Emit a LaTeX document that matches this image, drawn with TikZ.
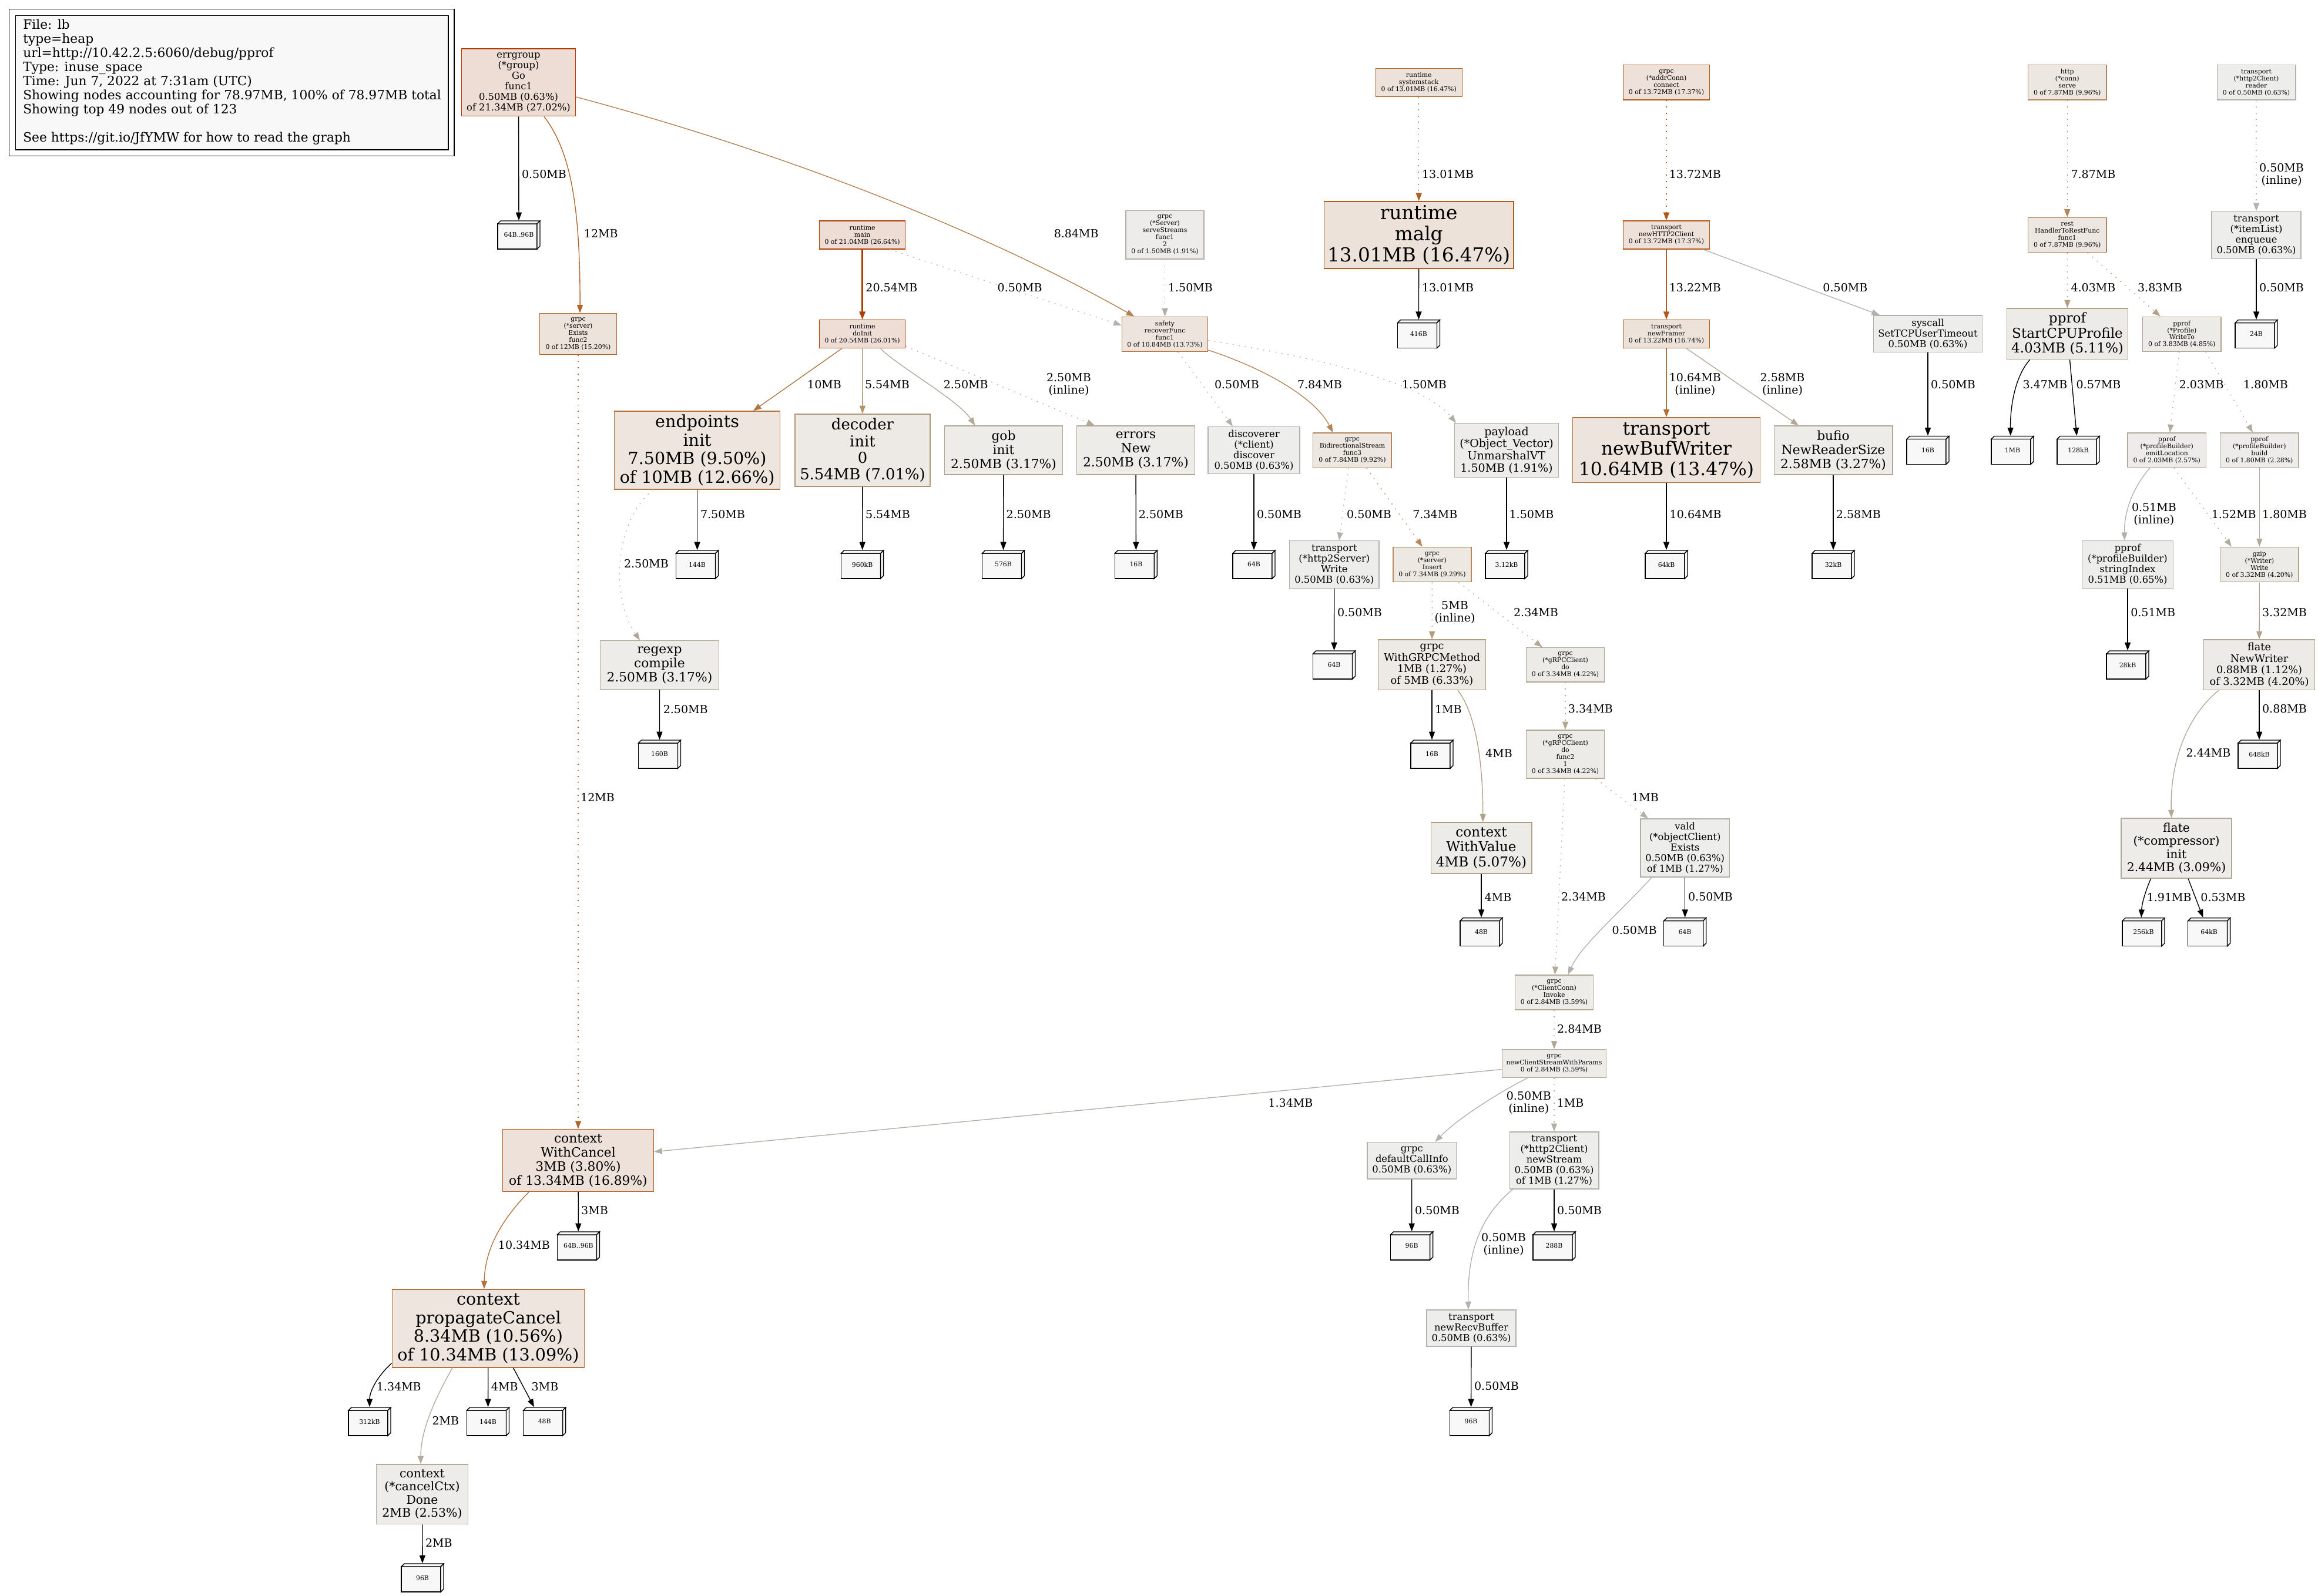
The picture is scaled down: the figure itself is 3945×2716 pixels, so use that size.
\documentclass[tikz,border=0pt]{standalone}
\usepackage{fontspec}
\setmainfont{DejaVu Serif}
\usetikzlibrary{arrows.meta,calc}
\definecolor{leafbg}{HTML}{F8F8F8}
\newcommand\gvf[1]{\fontsize{\the\dimexpr #1pt*387/1000\relax}{\the\dimexpr #1pt*426/1000\relax}\selectfont}
\newcommand\pcol[2]{%
  \pgfmathsetmacro\pcS{#2}%
  \pgfmathsetmacro\pcT{min(1,\pcS/0.2)}%
  \pgfmathsetmacro\pcU{\pcS^0.3}%
  \pgfmathsetmacro\pcBg{0.93*(1-0.1*\pcT*\pcU)}%
  \pgfmathsetmacro\pcBb{0.93*(1-0.1*\pcT)}%
  \pgfmathsetmacro\pcFg{0.7*(1-\pcT*\pcU)}%
  \pgfmathsetmacro\pcFb{0.7*(1-\pcT)}%
  \definecolor{#1bg}{rgb}{0.93,\pcBg,\pcBb}%
  \definecolor{#1fg}{rgb}{0.7,\pcFg,\pcFb}%
}
\newcommand\pn[8]{\node[pnode, nscore=#7, minimum width=#4*0.1mm, minimum height=#5*0.1mm, font=\gvf{#6}] (#1) at (#2,#3) {#8};}
\newcommand\leaf[4]{%
  \filldraw[leafface] (#2-36,#3-19) rectangle (#2+31,#3+24);
  \filldraw[leafface] (#2-36,#3-19) -- (#2-31,#3-24) -- (#2+36,#3-24) -- (#2+31,#3-19) -- cycle;
  \filldraw[leafface] (#2+31,#3-19) -- (#2+36,#3-24) -- (#2+36,#3+19) -- (#2+31,#3+24) -- cycle;
  \node[leafnode] (#1) at (#2,#3) {#4};}
\newcommand\el[4]{\node[elab] (#1) at (#2,#3) {#4};}
\begin{document}
\begin{tikzpicture}[x=0.1mm,y=-0.1mm,
  pnode/.style={rectangle, draw, align=center, inner xsep=1pt, inner ysep=0pt, line width=0.387pt},
  nscore/.code={\pcol{nc}{#1}\pgfkeysalso{fill=ncbg,draw=ncfg}},
  escore/.code={\pcol{ec}{#1}\pgfkeysalso{draw=ecfg}},
  conn/.style={line width=0.387pt, -{Triangle[length=1.36mm,width=1.0mm]}},
  ledge/.style={conn, draw=black},
  dotd/.style={dash pattern=on 0.5pt off 2.5pt},
  elab/.style={font=\gvf{14}, inner sep=0pt, align=center},
  leafface/.style={fill=leafbg, draw=black, line width=0.387pt},
  leafnode/.style={rectangle, minimum width=7.2mm, minimum height=4.8mm, inner sep=0pt, font=\gvf{8}},
  lgl/.style={anchor=base west, inner sep=0pt, font=\gvf{16}}]
\useasboundingbox (0,0) rectangle (3945,2716);

% legend
\draw[line width=0.387pt] (15.4,15.6) rectangle (773,265.6);
\filldraw[fill=leafbg, draw=black, line width=0.387pt] (26.7,26.8) rectangle (763,255);
\node[lgl] (lg1) at (38.6,49) {File: lb};
\node[lgl] (lg2) at (38.6,73) {type=heap};
\node[lgl] (lg3) at (38.6,97) {url=http://10.42.2.5:6060/debug/pprof};
\node[lgl] (lg4) at (38.6,121) {Type: inuse\_space};
\node[lgl] (lg5) at (38.6,145) {Time: Jun 7, 2022 at 7:31am (UTC)};
\node[lgl] (lg6) at (38.6,169) {Showing nodes accounting for 78.97MB, 100\% of 78.97MB total};
\node[lgl] (lg7) at (38.6,193) {Showing top 49 nodes out of 123};
\node[lgl] (lg8) at (38.6,241) {See https://git.io/JfYMW for how to read the graph};

% nodes
\pn{N1}{882.5}{140.4}{193.6}{114.8}{12}{0.2702}{errgroup\\(*group)\\Go\\func1\\0.50MB (0.63\%)\\of 21.34MB (27.02\%)}
\pn{N2}{984}{568.5}{130.5}{70}{8}{0.1520}{grpc\\(*server)\\Exists\\func2\\0 of 12MB (15.20\%)}
\pn{N3}{1467.6}{400}{146}{48}{8}{0.2664}{runtime\\main\\0 of 21.04MB (26.64\%)}
\pn{N4}{1467.6}{568.7}{146}{48}{8}{0.2601}{runtime\\doInit\\0 of 20.54MB (26.01\%)}
\pn{N5}{1982.5}{399.7}{133}{82.5}{8}{0.0191}{grpc\\(*Server)\\serveStreams\\func1\\2\\0 of 1.50MB (1.91\%)}
\pn{N6}{1982.5}{568.8}{146}{59}{8}{0.1373}{safety\\recoverFunc\\func1\\0 of 10.84MB (13.73\%)}
\pn{N7}{2414.7}{140.6}{147}{48}{8}{0.1647}{runtime\\systemstack\\0 of 13.01MB (16.47\%)}
\pn{N8}{2414.7}{400}{322.6}{114.2}{24}{0.1647}{runtime\\malg\\13.01MB (16.47\%)}
\pn{N9}{2836}{140.4}{147}{59.3}{8}{0.1737}{grpc\\(*addrConn)\\connect\\0 of 13.72MB (17.37\%)}
\pn{N10}{2836}{400}{147}{48}{8}{0.1737}{transport\\newHTTP2Client\\0 of 13.72MB (17.37\%)}
\pn{N11}{2836}{568.7}{147}{48}{8}{0.1674}{transport\\newFramer\\0 of 13.22MB (16.74\%)}
\pn{N12}{3518.2}{140.4}{133.6}{59.3}{8}{0.0996}{http\\(*conn)\\serve\\0 of 7.87MB (9.96\%)}
\pn{N13}{3518.2}{400}{133.6}{59}{8}{0.0996}{rest\\HandlerToRestFunc\\func1\\0 of 7.87MB (9.96\%)}
\pn{N14}{3840}{140.4}{133.6}{59.3}{8}{0.0063}{transport\\(*http2Client)\\reader\\0 of 0.50MB (0.63\%)}
\pn{N15}{3840}{400}{152}{80.4}{12}{0.0063}{transport\\(*itemList)\\enqueue\\0.50MB (0.63\%)}
\pn{N16}{3281}{568.3}{185.4}{62.6}{12}{0.0063}{syscall\\SetTCPUserTimeout\\0.50MB (0.63\%)}
\pn{N17}{3518.5}{568.3}{206.4}{86.6}{17}{0.0511}{pprof\\StartCPUProfile\\4.03MB (5.11\%)}
\pn{N18}{3713.3}{568.7}{133.6}{59}{8}{0.0485}{pprof\\(*Profile)\\WriteTo\\0 of 3.83MB (4.85\%)}
\pn{N19}{1186.6}{766.5}{282}{133}{21}{0.1266}{endpoints\\init\\7.50MB (9.50\%)\\of 10MB (12.66\%)}
\pn{N20}{1468}{766.5}{230}{123}{19}{0.0701}{decoder\\init\\0\\5.54MB (7.01\%)}
\pn{N21}{1708}{766.5}{201.3}{83}{16}{0.0317}{gob\\init\\2.50MB (3.17\%)}
\pn{N22}{1933}{766.5}{200.6}{83}{16}{0.0317}{errors\\New\\2.50MB (3.17\%)}
\pn{N23}{2134}{766.5}{156}{80}{12}{0.0063}{discoverer\\(*client)\\discover\\0.50MB (0.63\%)}
\pn{N24}{2301.4}{766.6}{133.3}{59.3}{8}{0.0992}{grpc\\BidirectionalStream\\func3\\0 of 7.84MB (9.92\%)}
\pn{N25}{2564}{766.7}{177.5}{92}{14}{0.0191}{payload\\(*Object\_Vector)\\UnmarshalVT\\1.50MB (1.91\%)}
\pn{N26}{2836}{766.4}{318.5}{110.8}{23}{0.1347}{transport\\newBufWriter\\10.64MB (13.47\%)}
\pn{N27}{3120}{766.5}{201.7}{83}{16}{0.0327}{bufio\\NewReaderSize\\2.58MB (3.27\%)}
\pn{N28}{2270.8}{961}{152.3}{80.6}{12}{0.0063}{transport\\(*http2Server)\\Write\\0.50MB (0.63\%)}
\pn{N29}{2437.4}{961}{133.2}{59.2}{8}{0.0929}{grpc\\(*server)\\Insert\\0 of 7.34MB (9.29\%)}
\pn{N30}{1122.4}{1132}{201.6}{82.6}{16}{0.0317}{regexp\\compile\\2.50MB (3.17\%)}
\pn{N31}{2437}{1131.7}{182.5}{85.4}{13}{0.0633}{grpc\\WithGRPCMethod\\1MB (1.27\%)\\of 5MB (6.33\%)}
\pn{N32}{2664}{1131.7}{133.3}{58.6}{8}{0.0422}{grpc\\(*gRPCClient)\\do\\0 of 3.34MB (4.22\%)}
\pn{N33}{2664}{1284}{133.3}{82.2}{8}{0.0422}{grpc\\(*gRPCClient)\\do\\func2\\1\\0 of 3.34MB (4.22\%)}
\pn{N34}{2521}{1443.6}{171.6}{87}{17}{0.0507}{context\\WithValue\\4MB (5.07\%)}
\pn{N35}{2867.7}{1443.5}{151.8}{99}{12}{0.0127}{vald\\(*objectClient)\\Exists\\0.50MB (0.63\%)\\of 1MB (1.27\%)}
\pn{N36}{3687.7}{766.4}{133.3}{58.8}{8}{0.0257}{pprof\\(*profileBuilder)\\emitLocation\\0 of 2.03MB (2.57\%)}
\pn{N37}{3845.3}{766.4}{133.5}{58.8}{8}{0.0228}{pprof\\(*profileBuilder)\\build\\0 of 1.80MB (2.28\%)}
\pn{N38}{3621}{961}{154.7}{80.6}{12}{0.0065}{pprof\\(*profileBuilder)\\stringIndex\\0.51MB (0.65\%)}
\pn{N39}{3845.3}{961}{133.5}{59.2}{8}{0.0420}{gzip\\(*Writer)\\Write\\0 of 3.32MB (4.20\%)}
\pn{N40}{3845}{1131.7}{189}{85.4}{13}{0.0420}{flate\\NewWriter\\0.88MB (1.12\%)\\of 3.32MB (4.20\%)}
\pn{N41}{3704}{1444}{188}{102}{15}{0.0309}{flate\\(*compressor)\\init\\2.44MB (3.09\%)}
\pn{N42}{2645}{1689.3}{132.7}{59}{8}{0.0359}{grpc\\(*ClientConn)\\Invoke\\0 of 2.84MB (3.59\%)}
\pn{N43}{2645}{1810.5}{177.3}{47.8}{8}{0.0359}{grpc\\newClientStreamWithParams\\0 of 2.84MB (3.59\%)}
\pn{N44}{984}{1975.5}{257}{106}{16}{0.1689}{context\\WithCancel\\3MB (3.80\%)\\of 13.34MB (16.89\%)}
\pn{N45}{2402.8}{1975.8}{151.8}{62.4}{12}{0.0063}{grpc\\defaultCallInfo\\0.50MB (0.63\%)}
\pn{N46}{2645}{1975.4}{151.7}{97.2}{12}{0.0127}{transport\\(*http2Client)\\newStream\\0.50MB (0.63\%)\\of 1MB (1.27\%)}
\pn{N47}{831}{2261.5}{327.5}{133}{21}{0.1309}{context\\propagateCancel\\8.34MB (10.56\%)\\of 10.34MB (13.09\%)}
\pn{N48}{718.5}{2543.8}{156}{101.7}{15}{0.0253}{context\\(*cancelCtx)\\Done\\2MB (2.53\%)}
\pn{N49}{2504}{2261}{152.2}{62}{12}{0.0063}{transport\\newRecvBuffer\\0.50MB (0.63\%)}

% leaves
\leaf{L1}{883}{400}{64B..96B}
\leaf{L2}{2414.4}{568.7}{416B}
\leaf{L3}{3840}{568.7}{24B}
\leaf{L4}{1186.6}{961}{144B}
\leaf{L5}{1467.6}{961}{960kB}
\leaf{L6}{1707.5}{961}{576B}
\leaf{L7}{1933.4}{961}{16B}
\leaf{L8}{2134}{961}{64B}
\leaf{L9}{2564}{961}{3.12kB}
\leaf{L10}{2836}{961}{64kB}
\leaf{L11}{3120}{961}{32kB}
\leaf{L12}{3281}{766.5}{16B}
\leaf{L13}{3425}{766.5}{1MB}
\leaf{L14}{3537}{766.5}{128kB}
\leaf{L15}{2270.5}{1132}{64B}
\leaf{L16}{1122.5}{1284}{160B}
\leaf{L17}{2437}{1284}{16B}
\leaf{L18}{3621}{1132}{28kB}
\leaf{L19}{3845}{1284}{648kB}
\leaf{L20}{2521}{1586.6}{48B}
\leaf{L21}{2867.7}{1586.6}{64B}
\leaf{L22}{3648}{1586.7}{256kB}
\leaf{L23}{3759.6}{1586.7}{64kB}
\leaf{L24}{2402.6}{2121}{96B}
\leaf{L25}{2645}{2121}{288B}
\leaf{L26}{984.4}{2121}{64B..96B}
\leaf{L27}{629}{2420}{312kB}
\leaf{L28}{830.5}{2420}{144B}
\leaf{L29}{926.7}{2420}{48B}
\leaf{L30}{719}{2686}{96B}
\leaf{L31}{2503.5}{2420}{96B}

% edges
\draw[ledge] (N1) -- (L1);
\draw[conn,escore=0.1520] ($(N1.south)+(43.5,0)$) .. controls (965,250) and (988,330) .. ($(N2.north)+(3,0)$);
\draw[conn,escore=0.1119] ($(N1.east)+(0,24.6)$) .. controls (1300,250) and (1650,380) .. ($(N6.north west)+(21.5,0)$);
\draw[conn,escore=0.1520,dotd] (N2) -- (N44);
\draw[conn,escore=0.2601,line width=0.774pt] (N3) -- (N4);
\draw[conn,escore=0.0063,dotd] ($(N3.south)+(46.4,0)$) -- ($(N6.west)+(0,-15)$);
\draw[conn,escore=0.0190,dotd] (N5) -- (N6);
\draw[conn,escore=0.1266] (N4) -- (N19);
\draw[conn,escore=0.0702] (N4) -- (N20);
\draw[conn,escore=0.0317] ($(N4.south)+(31,0)$) .. controls (1530,625) and (1630,680) .. ($(N21.north)+(-48.6,0)$);
\draw[conn,escore=0.0317,dotd] ($(N4.south east)+(0,-4)$) -- ($(N22.north)+(-70,0)$);
\draw[conn,escore=0.0063,dotd] ($(N6.south)+(22.5,0)$) -- ($(N23.north)+(-36,0)$);
\draw[conn,escore=0.0993] ($(N6.south east)+(0,-3)$) .. controls (2160,630) and (2240,680) .. ($(N24.north)+(-33,0)$);
\draw[conn,escore=0.0190,dotd] ($(N6.east)+(0,11)$) .. controls (2250,610) and (2420,650) .. ($(N25.north west)+(3.5,0)$);
\draw[conn,escore=0.1647,dotd] (N7) -- (N8);
\draw[ledge] (N8) -- (L2);
\draw[conn,escore=0.1737,dotd] (N9) -- (N10);
\draw[conn,escore=0.1674] (N10) -- (N11);
\draw[conn,escore=0.0063] ($(N10.south east)+(-11.5,0)$) -- ($(N16.north west)+(11.3,0)$);
\draw[conn,escore=0.1347] (N11) -- (N26);
\draw[conn,escore=0.0327] ($(N11.south)+(34.5,0)$) -- ($(N27.north)+(-59,0)$);
\draw[conn,escore=0.0997,dotd] (N12) -- (N13);
\draw[conn,escore=0.0510,dotd] (N13) -- (N17);
\draw[conn,escore=0.0485,dotd] ($(N13.south)+(34.5,0)$) -- ($(N18.north)+(-36.7,0)$);
\draw[conn,escore=0.0063,dotd] (N14) -- (N15);
\draw[ledge] (N15) -- (L3);
\draw[ledge] (N16) -- (L12);
\draw[ledge] ($(N17.south)+(-63.9,0)$) .. controls (3430,640) and (3421,690) .. ($(L13.north)+(-3.3,0)$);
\draw[ledge] ($(N17.south)+(4,0)$) -- ($(L14.north)+(-2.6,0)$);
\draw[conn,escore=0.0257,dotd] ($(N18.south)+(-4.3,0)$) -- ($(N36.north)+(5.1,0)$);
\draw[conn,escore=0.0228,dotd] ($(N18.south)+(40.4,0)$) -- ($(N37.north)+(-11.3,0)$);
\draw[ledge] (N19) -- (L4);
\draw[conn,escore=0.0317,dotd] ($(N19.south)+(-74.6,0)$) .. controls (1050,880) and (1035,1010) .. ($(N30.north)+(-33.4,0)$);
\draw[ledge] (N20) -- (L5);
\draw[ledge] (N21) -- (L6);
\draw[ledge] (N22) -- (L7);
\draw[ledge] (N23) -- (L8);
\draw[conn,escore=0.0063,dotd] ($(N24.south)+(-6.4,0)$) -- ($(N28.north)+(8.2,0)$);
\draw[conn,escore=0.0929,dotd] ($(N24.south)+(24.5,0)$) -- ($(N29.north)+(-16.8,0)$);
\draw[ledge] (N25) -- (L9);
\draw[ledge] (N26) -- (L10);
\draw[ledge] (N27) -- (L11);
\draw[ledge] (N28) -- (L15);
\draw[conn,escore=0.0633,dotd] (N29) -- (N31);
\draw[conn,escore=0.0296,dotd] ($(N29.south)+(45,0)$) -- ($(N32.north)+(-39.3,0)$);
\draw[ledge] (N30) -- (L16);
\draw[ledge] (N31) -- (L17);
\draw[conn,escore=0.0507] ($(N31.south)+(44,0)$) .. controls (2512,1215) and (2524,1300) .. ($(N34.north)+(2.7,0)$);
\draw[conn,escore=0.0423,dotd] (N32) -- (N33);
\draw[conn,escore=0.0127,dotd] ($(N33.south)+(52,0)$) -- ($(N35.north)+(-62.7,0)$);
\draw[conn,escore=0.0296,dotd] ($(N33.south)+(-1,0)$) -- ($(N42.north)+(1.4,0)$);
\draw[ledge] (N34) -- (L20);
\draw[ledge] (N35) -- (L21);
\draw[conn,escore=0.0063] ($(N35.south)+(-56.7,0)$) .. controls (2760,1550) and (2690,1610) .. ($(N42.north)+(23.8,0)$);
\draw[conn,escore=0.0065] ($(N36.south)+(-28.8,0)$) .. controls (3630,830) and (3615,870) .. ($(N38.north)+(-5.3,0)$);
\draw[conn,escore=0.0192,dotd] ($(N36.south)+(12.1,0)$) -- ($(N39.north)+(-47.4,0)$);
\draw[conn,escore=0.0228] (N37) -- (N39);
\draw[ledge] (N38) -- (L18);
\draw[conn,escore=0.0420] (N39) -- (N40);
\draw[ledge] (N40) -- (L19);
\draw[conn,escore=0.0309] ($(N40.south)+(-68.7,0)$) .. controls (3720,1220) and (3693,1300) .. ($(N41.north)+(-8.5,0)$);
\draw[ledge] ($(N41.south)+(-43.5,0)$) .. controls (3650,1520) and (3645,1540) .. ($(L22.north)+(-3.7,0)$);
\draw[ledge] ($(N41.south)+(20,0)$) -- ($(L23.north)+(-10.2,0)$);
\draw[conn,escore=0.0360,dotd] (N42) -- (N43);
\draw[conn,escore=0.0170] ($(N43.west)+(0,10)$) -- ($(N44.east)+(0,-14.8)$);
\draw[conn,escore=0.0063] ($(N43.south)+(-45.1,0)$) .. controls (2550,1860) and (2480,1905) .. ($(N45.north)+(39.5,0)$);
\draw[conn,escore=0.0127,dotd] (N43) -- (N46);
\draw[ledge] (N44) -- (L26);
\draw[conn,escore=0.1309] ($(N44.south)+(-84,0)$) .. controls (850,2080) and (825,2130) .. ($(N47.north)+(-7.1,0)$);
\draw[ledge] (N45) -- (L24);
\draw[ledge] (N46) -- (L25);
\draw[conn,escore=0.0063] ($(N46.south west)+(6,0)$) .. controls (2520,2070) and (2497,2130) .. ($(N49.north)+(-5,0)$);
\draw[ledge] ($(N47.south west)+(0,-8)$) .. controls (640,2345) and (629,2370) .. (L27.north);
\draw[ledge] (N47) -- (L28);
\draw[ledge] ($(N47.south)+(42.6,0)$) -- ($(L29.north)+(-17.7,0)$);
\draw[conn,escore=0.0253] ($(N47.south)+(-61,0)$) .. controls (735,2390) and (716,2440) .. ($(N48.north)+(-2.5,0)$);
\draw[ledge] (N48) -- (L30);
\draw[ledge] (N49) -- (L31);

% edge labels
\el{t1}{926}{297}{0.50MB}
\el{t2}{1022.8}{397.3}{12MB}
\el{t3}{1831.7}{398}{8.84MB}
\el{t4}{1017}{1357.6}{12MB}
\el{t5}{1517.4}{489.7}{20.54MB}
\el{t6}{1735.6}{489.7}{0.50MB}
\el{t7}{2026}{489.7}{1.50MB}
\el{t8}{1403}{655}{10MB}
\el{t9}{1510}{655}{5.54MB}
\el{t10}{1643.7}{655}{2.50MB}
\el{t11}{1819}{654}{2.50MB\\(inline)}
\el{t12}{2105}{655}{0.50MB}
\el{t13}{2246}{655}{7.84MB}
\el{t14}{2424}{655}{1.50MB}
\el{t15}{2464}{297}{13.01MB}
\el{t16}{2464}{489.7}{13.01MB}
\el{t17}{2884.8}{297}{13.72MB}
\el{t18}{2884.8}{489.7}{13.22MB}
\el{t19}{3140.4}{489.7}{0.50MB}
\el{t20}{2884.8}{654}{10.64MB\\(inline)}
\el{t21}{3033.5}{654}{2.58MB\\(inline)}
\el{t22}{3562.4}{297}{7.87MB}
\el{t23}{3562.4}{489.7}{4.03MB}
\el{t24}{3676}{489.7}{3.83MB}
\el{t25}{3883}{297}{0.50MB\\(inline)}
\el{t26}{3883}{489.7}{0.50MB}
\el{t27}{3324}{655}{0.50MB}
\el{t28}{3480.5}{655}{3.47MB}
\el{t29}{3571.5}{655}{0.57MB}
\el{t30}{3746.7}{655}{2.03MB}
\el{t31}{3856}{655}{1.80MB}
\el{t32}{1230}{875.4}{7.50MB}
\el{t33}{1100}{959.6}{2.50MB}
\el{t34}{1511}{875.4}{5.54MB}
\el{t35}{1750.6}{875.4}{2.50MB}
\el{t36}{1975.8}{875.4}{2.50MB}
\el{t37}{2177}{875.4}{0.50MB}
\el{t38}{2330}{875.4}{0.50MB}
\el{t39}{2442.3}{875.4}{7.34MB}
\el{t40}{2606.5}{875.4}{1.50MB}
\el{t41}{2885.7}{875.4}{10.64MB}
\el{t42}{3162.8}{875.4}{2.58MB}
\el{t43}{2314}{1043}{0.50MB}
\el{t44}{2476}{1043}{5MB\\(inline)}
\el{t45}{2614}{1043}{2.34MB}
\el{t46}{1166.7}{1207.7}{2.50MB}
\el{t47}{2464.8}{1207}{1MB}
\el{t48}{2551}{1282}{4MB}
\el{t49}{2706.8}{1207}{3.34MB}
\el{t50}{2800}{1357}{1MB}
\el{t51}{2695}{1527}{2.34MB}
\el{t52}{2549.5}{1527}{4MB}
\el{t53}{2911}{1527}{0.50MB}
\el{t54}{2781.6}{1584}{0.50MB}
\el{t55}{3665.9}{875.4}{0.51MB\\(inline)}
\el{t56}{3801.7}{875.4}{1.52MB}
\el{t57}{3888}{875.4}{1.80MB}
\el{t58}{3664.2}{1043}{0.51MB}
\el{t59}{3888}{1043}{3.32MB}
\el{t60}{3888}{1207}{0.88MB}
\el{t61}{3758.5}{1282}{2.44MB}
\el{t62}{3691.7}{1527.7}{1.91MB}
\el{t63}{3783.3}{1527.7}{0.53MB}
\el{t64}{2688}{1751.8}{2.84MB}
\el{t65}{2196.4}{1877.5}{1.34MB}
\el{t66}{2601.8}{1877.7}{0.50MB\\(inline)}
\el{t67}{2672.6}{1877.7}{1MB}
\el{t68}{1012}{2061}{3MB}
\el{t69}{891.9}{2119.7}{10.34MB}
\el{t70}{2446}{2060.7}{0.50MB}
\el{t71}{2688}{2060.7}{0.50MB}
\el{t72}{2559}{2118.5}{0.50MB\\(inline)}
\el{t73}{678.8}{2360.6}{1.34MB}
\el{t74}{858.7}{2360.6}{4MB}
\el{t75}{927.5}{2360.6}{3MB}
\el{t76}{758.4}{2418.5}{2MB}
\el{t77}{746.8}{2626.8}{2MB}
\el{t78}{2547}{2360}{0.50MB}
\end{tikzpicture}
\end{document}
